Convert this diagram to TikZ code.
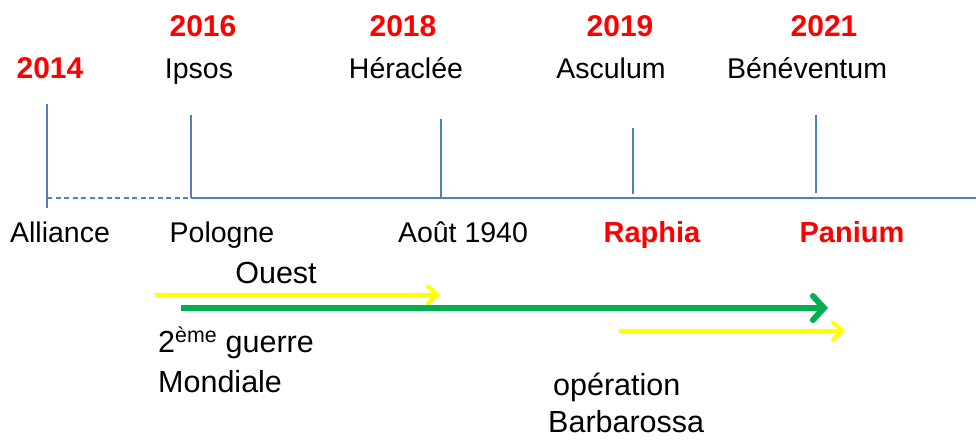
\documentclass[tikz,border=0pt]{standalone}
\usepackage{fontspec}
\setmainfont{Liberation Sans}
\usetikzlibrary{arrows.meta}
\definecolor{axisblue}{RGB}{79,129,189}
\definecolor{yearred}{RGB}{255,0,0}
\definecolor{arrowgreen}{RGB}{0,176,80}
\definecolor{arrowyellow}{RGB}{255,255,0}
\begin{document}
\begin{tikzpicture}[x=1pt,y=-1pt,
  lbl/.style={inner sep=0pt, anchor=base, font=\fontsize{28.5}{30}\selectfont},
  lowlbl/.style={inner sep=0pt, anchor=base west, font=\fontsize{30.5}{32}\selectfont},
  yr/.style={inner sep=0pt, anchor=base, text=yearred, font=\fontsize{30}{32}\selectfont\bfseries},
  redlbl/.style={inner sep=0pt, anchor=base, text=yearred, font=\fontsize{29}{31}\selectfont\bfseries},
  tick/.style={draw=axisblue, line width=2.2pt},
  axisline/.style={draw=axisblue, line width=2.2pt},
  dashaxis/.style={draw=axisblue, line width=1.6pt, dash pattern=on 5pt off 3.5pt},
  yarrow/.style={draw=arrowyellow, line width=4pt, -{Straight Barb[length=9pt, width=17pt, line cap=round]}},
  garrow/.style={draw=arrowgreen, line width=6pt, -{Straight Barb[length=11pt, width=24pt, line cap=round]}},
]
\useasboundingbox (0,0) rectangle (976,441);

% timeline coordinates
\coordinate (t1top) at (47,104);
\coordinate (t1bot) at (47,208);
\coordinate (d1) at (47,198);
\coordinate (t2top) at (191,115);
\coordinate (t2bot) at (191,198);
\coordinate (axend) at (976,198);
\coordinate (t3top) at (441,119);
\coordinate (t3bot) at (441,198);
\coordinate (t4top) at (633,128);
\coordinate (t4bot) at (633,194);
\coordinate (t5top) at (816,115);
\coordinate (t5bot) at (816,193);

\draw[tick] (t1top) -- (t1bot);
\draw[dashaxis] (d1) -- (t2bot);
\draw[tick] (t2top) -- (t2bot);
\draw[axisline] (t2bot) -- (axend);
\draw[tick] (t3top) -- (t3bot);
\draw[tick] (t4top) -- (t4bot);
\draw[tick] (t5top) -- (t5bot);

% years
\node[yr] (y2014) at (50,79) {2014};
\node[yr] (y2016) at (203,37) {2016};
\node[yr] (y2018) at (403,37) {2018};
\node[yr] (y2019) at (620,37) {2019};
\node[yr] (y2021) at (824,37) {2021};

% battles top
\node[lbl] (ipsos) at (199,79) {Ipsos};
\node[lbl] (heraclee) at (406,79) {Héraclée};
\node[lbl] (asculum) at (611,79) {Asculum};
\node[lbl] (benevent) at (807,79) {Bénéventum};

% labels below axis
\node[lbl] (alliance) at (60,242) {Alliance};
\node[lbl] (pologne) at (222,242) {Pologne};
\node[lbl] (aout) at (463,242) {Août 1940};
\node[redlbl] (raphia) at (652,242) {Raphia};
\node[redlbl] (panium) at (852,242) {Panium};

% arrows
\coordinate (ya1s) at (155,295);
\coordinate (ya1e) at (440,295);
\coordinate (gas) at (181,308);
\coordinate (gae) at (828,308);
\coordinate (ya2s) at (619,331);
\coordinate (ya2e) at (845,331);
\draw[yarrow] (ya1s) -- (ya1e);
\draw[garrow] (gas) -- (gae);
\draw[yarrow] (ya2s) -- (ya2e);

% bottom texts
\node[lowlbl, anchor=base] (ouest) at (276,283) {Ouest};
\node[lowlbl] (guerre) at (158,352) {2\textsuperscript{ème} guerre};
\node[lowlbl] (mondiale) at (158,392) {Mondiale};
\node[lowlbl] (operation) at (553,395) {opération};
\node[lowlbl] (barbarossa) at (548,432) {Barbarossa};
\end{tikzpicture}
\end{document}
